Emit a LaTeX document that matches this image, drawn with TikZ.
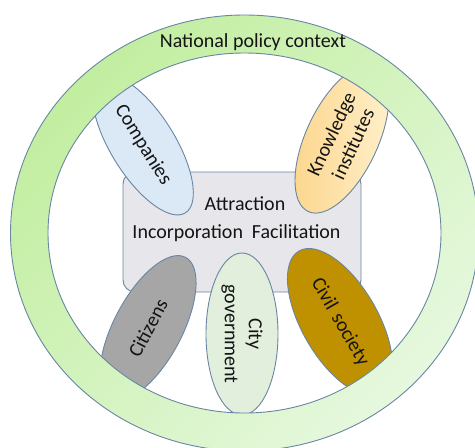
\documentclass[tikz,border=0pt]{standalone}
\usepackage{fontspec}
\setmainfont{Carlito}
\usetikzlibrary{shapes.geometric}

\definecolor{edge}{RGB}{104,134,164}
\definecolor{ringA}{RGB}{194,238,160}
\definecolor{ringB}{RGB}{230,248,222}
\definecolor{coreFill}{RGB}{231,230,234}
\definecolor{compFill}{RGB}{219,232,245}
\definecolor{knowA}{RGB}{252,214,140}
\definecolor{knowB}{RGB}{255,240,204}
\definecolor{citiFill}{RGB}{166,166,166}
\definecolor{cityFill}{RGB}{226,239,220}
\definecolor{civilFill}{RGB}{191,144,0}
\definecolor{ink}{RGB}{20,20,20}

\tikzset{
  actor/.style={ellipse, draw=edge, line width=0.9pt, inner sep=0pt,
    minimum width=160pt, minimum height=70pt, align=center,
    font=\fontsize{20}{24}\selectfont, text=ink},
  label/.style={font=\fontsize{20}{24}\selectfont, text=ink, inner sep=0pt, anchor=base},
}

\begin{document}
\begin{tikzpicture}[x=1pt,y=1pt]
\useasboundingbox (0,0) rectangle (475,-448);

% central activity box
\node[draw=edge, line width=0.9pt, fill=coreFill, rounded corners=12pt,
      minimum width=238pt, minimum height=120pt, inner sep=0pt] (core) at (242,-232) {};
\node[label] (attr) at (245,-210) {Attraction};
\node[label] (incfac) at (236.5,-238) {Incorporation\hspace{9pt}Facilitation};

% actors
\node[actor, fill=compFill, rotate=-58, minimum width=160pt, minimum height=64pt]
  (companies) at (143,-145) {Companies};
\node[actor, left color=knowA, right color=knowB, rotate=65, minimum width=160pt, minimum height=72pt]
  (knowledge) at (342,-139) {Knowledge\\institutes};
\node[actor, fill=citiFill, rotate=62, minimum width=160pt, minimum height=68pt]
  (citizens) at (148,-328) {Citizens};
\node[actor, fill=cityFill, rotate=-90, minimum width=162pt, minimum height=72pt]
  (citygov) at (242,-334) {City\\government};
\node[actor, fill=civilFill, rotate=-60, minimum width=164pt, minimum height=76pt]
  (civil) at (340,-322) {Civil\hspace{7pt}society};

% national policy ring
\path[draw=edge, line width=0.9pt, top color=ringA, bottom color=ringB,
      shading angle=45, even odd rule]
  (244.5,-233) ellipse [x radius=234, y radius=218]
  (244.5,-233) ellipse [x radius=196.5, y radius=180];
\node[label] (national) at (253,-47) {National policy context};
\end{tikzpicture}
\end{document}
